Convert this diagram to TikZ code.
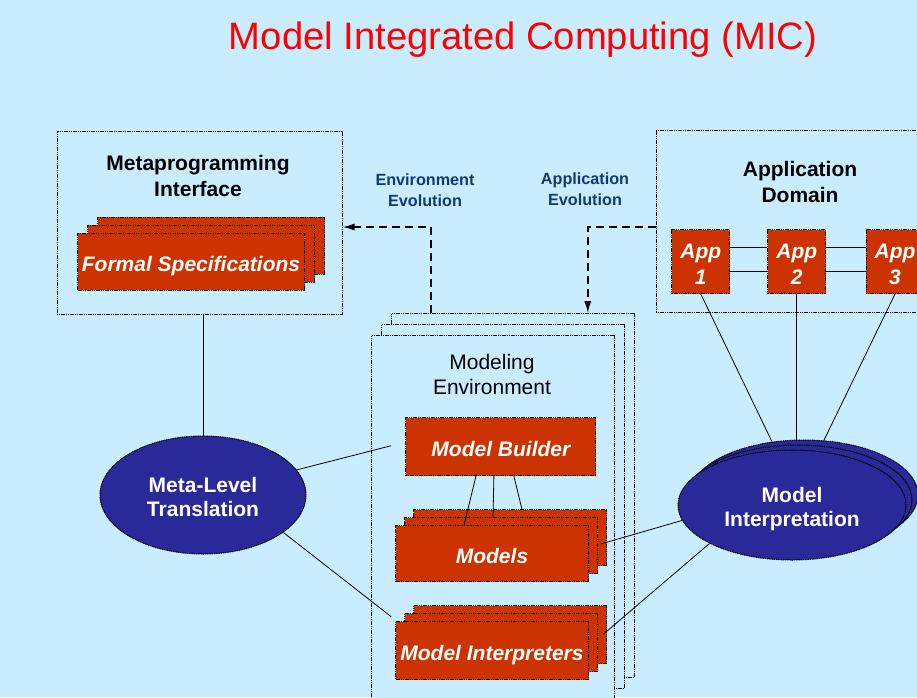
\documentclass[tikz,border=0pt]{standalone}
\usepackage{fontspec}
\setmainfont{Liberation Sans}
\usetikzlibrary{shapes.geometric}
\usetikzlibrary{arrows.meta}
\definecolor{paleblue}{rgb}{0.79,0.93,1.00}
\definecolor{brickred}{rgb}{0.80,0.20,0.00}
\definecolor{darkindigo}{rgb}{0.16,0.16,0.60}
\definecolor{labelblue}{rgb}{0.07,0.22,0.45}
\tikzset{
  outline/.style={draw=black,dash pattern=on 1.2pt off 0.6pt,line width=1pt},
  redbox/.style={outline,fill=brickred,text=white,font=\fontsize{21}{25}\selectfont\bfseries\itshape,align=center,inner sep=0pt,text height=19pt,text depth=0pt},
  appbox/.style={redbox,minimum width=58,minimum height=64,font=\fontsize{21}{25.5}\selectfont\bfseries\itshape,text height=45pt,text depth=0pt},
  framebox/.style={outline,fill=paleblue,inner sep=0pt},
  blueoval/.style={outline,ellipse,fill=darkindigo,text=white,font=\fontsize{21}{24}\selectfont\bfseries,align=center,inner sep=0pt,text height=42.5pt,text depth=0pt},
  heading/.style={font=\fontsize{21}{26}\selectfont\bfseries,align=center},
  evolabel/.style={text=labelblue,font=\fontsize{16.2}{20.5}\selectfont\bfseries,align=center},
  link/.style={draw=black,line width=0.8pt},
  evoarrow/.style={draw=black,line width=1.6pt,dash pattern=on 8pt off 5pt,-{Latex[length=12pt,width=7pt]}}
}
% name, x, y, width, height, dx, dy, style, text
\newcommand{\drawstack}[9]{
  \node[#8,minimum width=#4,minimum height=#5] (#1-b) at ({#2+2*#6},{#3+2*#7}) {};
  \node[#8,minimum width=#4,minimum height=#5] (#1-m) at ({#2+#6},{#3+#7}) {};
  \node[#8,minimum width=#4,minimum height=#5] (#1) at (#2,#3) {#9};
}

\begin{document}
\begin{tikzpicture}[x=1pt,y=-1pt]
      \useasboundingbox (0,0) rectangle (917,697);
      \clip (0,0) rectangle (917,697);
      \fill[paleblue] (0,0) rectangle (917,697);
      \node[text=red,font=\fontsize{38.2}{44}\selectfont] (title) at (523,40) {Model Integrated Computing (MIC)};

      %% metaprogramming side
      \node[framebox,minimum width=285,minimum height=183] (metabox) at (199.5,222.5) {};
      \node[heading] (metahead) at (198,176) {Metaprogramming\\Interface};
      \drawstack{formal}{191}{261.7}{227}{57}{10}{-8}{redbox}{Formal Specifications};

      %% application side
      \node[framebox,minimum width=284,minimum height=182] (appbox) at (798,221) {};
      \node[heading] (apphead) at (800,182) {Application\\Domain};
      \node[appbox] (app1) at (700.8,261.5) {App\\1};
      \node[appbox] (app2) at (796.8,261.5) {App\\2};
      \node[appbox] (app3) at (895,261.5) {App\\3};

      \node[evolabel] (envevo) at (425,190) {Environment\\Evolution};
      \node[evolabel] (appevo) at (585,189) {Application\\Evolution};

      %% modeling environment
      \drawstack{envstack}{493}{517.7}{242.6}{364}{10}{-11}{framebox}{};
      \node[font=\fontsize{21}{25}\selectfont,align=center] (envhead) at (492,374) {Modeling\\Environment};
      \node[redbox,minimum width=190,minimum height=58] (builder) at (500.9,446.7) {Model Builder};
      \drawstack{models}{492}{553.9}{193}{56}{9}{-8}{redbox}{Models};
      \drawstack{interps}{492}{650.5}{193}{58}{9}{-8}{redbox}{Model Interpreters};

      %% translators
      \node[blueoval,minimum width=206,minimum height=118] (metatrans) at (203,495) {Meta-Level\\Translation};
      \drawstack{interp}{792}{505}{228}{110}{6}{-5}{blueoval}{Model\\Interpretation};

      %% connectors
      \draw[link] (metatrans.north) -- (metatrans.north |- metabox.south);
      \draw[link] (metatrans.15) -- ([yshift=50pt]envstack-b.west);
      \draw[link] (metatrans.-25) -- ([yshift=-121pt]envstack-b.west);
      \draw[link] ([xshift=-25pt]builder.south) -- ([xshift=-28pt]models.north);
      \draw[link] ([xshift=-7pt]builder.south) -- ([xshift=-8pt]models-m.north);
      \draw[link] ([xshift=13pt]builder.south) -- ([xshift=12pt]models-b.north);
      \draw[link] (interp.188) -- ([shift={(-6pt,-6pt)}]models-b.east);
      \draw[link] (interp.205) -- ([xshift=-4pt]interps-b.east);
      \draw[link] (app1.south) -- (interp-b.121);
      \draw[link] (app2.south) -- (app2.south |- interp-b.north);
      \draw[link] (app3.south) -- (interp-b.70);
      \draw[link] ([yshift=14pt]app1.east) -- ([yshift=14pt]app2.west);
      \draw[link] ([yshift=-10pt]app1.east) -- ([yshift=-10pt]app2.west);
      \draw[link] ([yshift=14pt]app2.east) -- ([yshift=14pt]app3.west);
      \draw[link] ([yshift=-10pt]app2.east) -- ([yshift=-10pt]app3.west);

      \draw[evoarrow] ([xshift=40pt]envstack-b.north west) |- ([yshift=-4.5pt]metabox.east);
      \draw[evoarrow] ([yshift=-6pt]appbox.west) -| ([xshift=-47pt]envstack-b.north east);
    \end{tikzpicture}
\end{document}
